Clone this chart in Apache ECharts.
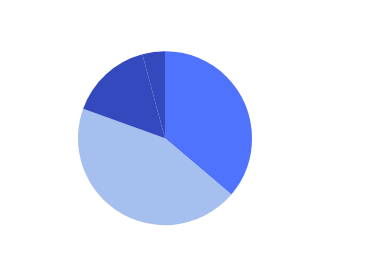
<!DOCTYPE html>
<html>
<head>
<meta charset="utf-8">
<script src="https://cdn.jsdelivr.net/npm/echarts@6/dist/echarts.min.js"></script>
<style>html,body{margin:0;padding:0;background:#fff}#c{width:375px;height:278px}</style>
</head>
<body>
<div id="c"></div>
<script>
var categories = ['A', 'B', 'C', 'D'];
var values = [36.2, 44.3, 15.3, 4.2];
var colors = ['#5073fe', '#a5bfee', '#3449be', '#3449be'];

var chart = echarts.init(document.getElementById('c'), null, {renderer: 'canvas'});
chart.setOption({
  animation: false,
  series: [{
    type: 'pie',
    center: ['44%', '49.7%'],
    radius: '62.6%',
    startAngle: 90,
    clockwise: true,
    label: {show: false},
    labelLine: {show: false},
    itemStyle: {borderWidth: 0},
    data: categories.map(function (c, i) {
      return {name: c, value: values[i], itemStyle: {color: colors[i]}};
    })
  }]
});
</script>
</body>
</html>
